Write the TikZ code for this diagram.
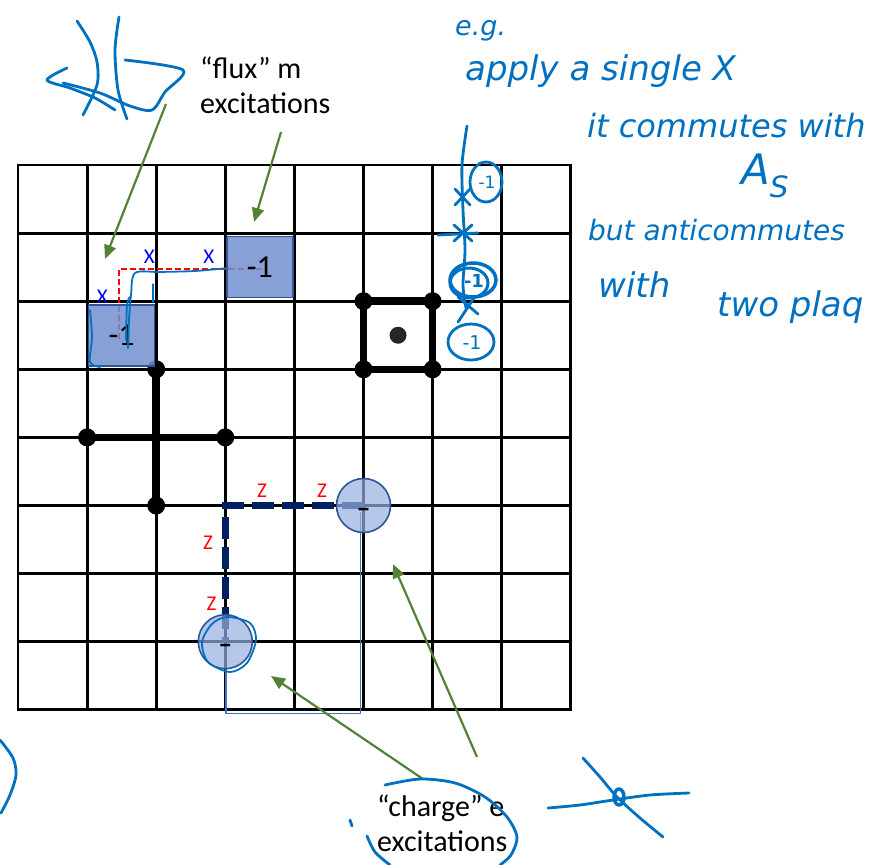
\documentclass[tikz,border=0pt]{standalone}
\usepackage{fontspec}
\setmainfont{Carlito}
\newfontfamily\handfont{DejaVu Sans}
\usepackage{tikz}
\usetikzlibrary{arrows.meta, positioning, calc}
\definecolor{sqblue}{RGB}{114,144,208}
\definecolor{sqedge}{RGB}{47,85,151}
\definecolor{chblue}{RGB}{150,176,224}
\definecolor{navy}{RGB}{0,32,96}
\definecolor{ptrgreen}{RGB}{84,130,53}
\definecolor{inkblue}{RGB}{0,112,192}
\definecolor{xblue}{RGB}{0,0,255}
\definecolor{zred}{RGB}{255,0,0}
\definecolor{pathblue}{RGB}{68,114,196}

\begin{document}
\begin{tikzpicture}[x=1pt,y=-1pt,
  every node/.style={font=\fontsize{30}{35}\selectfont},
  gridline/.style={line width=2.8pt,line cap=rect},
  opline/.style={line width=7.5pt},
  fluxsq/.style={draw=sqedge,line width=1.6pt,fill=sqblue,fill opacity=0.85,text opacity=1,
    minimum width=66pt,minimum height=61pt,inner sep=0pt,font=\fontsize{32}{32}\selectfont},
  chargedot/.style={circle,draw=sqedge,line width=1.6pt,fill=chblue,fill opacity=0.7,text opacity=1,
    minimum size=54pt,inner sep=0pt,text height=24pt,text depth=0pt,
    font=\bfseries\fontsize{28}{28}\selectfont},
  xlab/.style={text=xblue,inner sep=0pt,font=\fontsize{21}{21}\selectfont},
  zlab/.style={text=zred,inner sep=0pt,font=\fontsize{21}{21}\selectfont},
  xstring/.style={zred,line width=2.2pt,dash pattern=on 6pt off 3pt},
  zstring/.style={navy,line width=6.5pt,dash pattern=on 22pt off 8pt},
  estring/.style={pathblue,line width=1.2pt},
  pointer/.style={-{Triangle[length=14pt,width=12pt]},ptrgreen,line width=2.2pt},
  scribble/.style={draw=inkblue,line width=2.8pt,line cap=round,line join=round},
  handtext/.style={text=inkblue,inner sep=0pt,anchor=base west},
]
\useasboundingbox (0,0) rectangle (892,865);

% lattice, one unit = one cell
\begin{scope}[shift={(18,165)},x=69.1pt,y=-68.1pt]
  \foreach \i in {0,...,8} {
    \draw[gridline] (\i,0) -- (\i,8);
    \draw[gridline] (0,\i) -- (8,\i);
  }

  % star operator
  \draw[opline] (1,4) -- (3,4) (2,3) -- (2,5);
  \foreach \p in {(1,4),(3,4),(2,3),(2,5)}
    \fill \p circle[radius=9pt];

  % plaquette operator
  \draw[opline] (5,2) rectangle (6,3);
  \foreach \p in {(5,2),(6,2),(5,3),(6,3)}
    \fill \p circle[radius=9pt];
  \fill[black!85] (5.5,2.5) circle[radius=8.5pt];

  % X string between the flux excitations
  \coordinate (xa) at (1.46,2.55);
  \coordinate (xb) at (3.55,1.53);
  \draw[xstring] (xa) |- (xb);
  \node[fluxsq] (sqA) at (1.5,2.5) {-1};
  \node[fluxsq] (sqB) at (3.5,1.5) {-1};
  \node[xlab] (xlA) at (1.22,1.94) {X};
  \node[xlab] (xlB) at (1.9,1.35) {X};
  \node[xlab] (xlC) at (2.76,1.35) {X};

  % Z string between the charge excitations
  \coordinate (zc) at (3,5);
  \coordinate (eb) at (3.01,8.05);
  \draw[zstring] (5,5) -- (zc) -- (3,7);
  \draw[estring] ([xshift=-3pt]5,5.1) |- (eb) -- (3.01,7.4);
  \node[chargedot] (chA) at (3,7) {–};
  \node[chargedot] (chB) at (5,5) {–};
  \node[zlab] (zlA) at (3.53,4.78) {Z};
  \node[zlab] (zlB) at (4.40,4.78) {Z};
  \node[zlab] (zlC) at (2.75,5.55) {Z};
  \node[zlab] (zlD) at (2.80,6.44) {Z};
\end{scope}

% labels and pointers
\node[anchor=north west,inner sep=0pt,align=left] (flux) at (200,57) {“flux” m\\excitations};
\node[anchor=north west,inner sep=0pt,align=left] (charge) at (377,795) {“charge” e\\excitations};
\coordinate (ftA) at (166,104);  \coordinate (fhA) at (105,259);
\coordinate (ftB) at (281,132);  \coordinate (fhB) at (254,222);
\coordinate (ctA) at (477,757);  \coordinate (chdA) at (393,564);
\coordinate (ctB) at (423,779);  \coordinate (chdB) at (271,676);
\draw[pointer] (ftA) -- (fhA);
\draw[pointer] (ftB) -- (fhB);
\draw[pointer] (ctA) -- (chdA);
\draw[pointer] (ctB) -- (chdB);

% handwritten notes
\node[handtext,font=\handfont\itshape\fontsize{27}{27}\selectfont] (eg) at (455,35) {e.g.};
\node[handtext,font=\handfont\itshape\fontsize{34}{34}\selectfont] (apply) at (465,80) {apply a single X};
\node[handtext,font=\handfont\itshape\fontsize{32}{32}\selectfont] (commute) at (587,137) {it commutes with};
\node[handtext,font=\handfont\itshape\fontsize{42}{42}\selectfont] (as) at (741,184) {A\textsubscript{S}};
\node[handtext,font=\handfont\itshape\fontsize{28}{28}\selectfont] (anti) at (588,240) {but anticommutes};
\node[handtext,font=\handfont\itshape\fontsize{34}{34}\selectfont] (with) at (598,297) {with};
\node[handtext,font=\handfont\itshape\fontsize{34}{34}\selectfont] (plaq) at (717,316) {two plaq};

% marks beside column six
\draw[scribble] plot[smooth] coordinates {(467,126) (462,165) (463,210) (465,250) (463,285) (466,308)};
\draw[scribble] (486,182) ellipse (16 and 20);
\node[text=inkblue,font=\handfont\fontsize{17}{17}\selectfont] (mA) at (487,182) {-1};
\draw[scribble] (455,189) -- (470,205) (470,189) -- (455,205);
\draw[scribble] (454,225) -- (472,241) (472,225) -- (454,241) (438,235) -- (478,233);
\draw[scribble,line width=3.5pt] (473,280) ellipse (23 and 17);
\draw[scribble,line width=3pt] (469,283) ellipse (19 and 15);
\node[text=inkblue,font=\handfont\bfseries\fontsize{18}{18}\selectfont] (mB) at (474,281) {-1};
\draw[scribble] (458,297) -- (478,314) (474,298) -- (458,322);
\draw[scribble] (471,342) ellipse (23 and 18);
\node[text=inkblue,font=\handfont\fontsize{19}{19}\selectfont] (mC) at (472,343) {-1};

% scribbles
\draw[scribble] plot[smooth] coordinates {(77,21) (90,42) (97,62) (97,85) (83,115)};
\draw[scribble] plot[smooth] coordinates {(119,17) (115,50) (118,90) (127,119)};
\draw[scribble] plot[smooth] coordinates {(67,68) (47,80) (70,88) (95,98) (115,110)};
\draw[scribble] plot[smooth] coordinates {(125,60) (183,70) (165,92) (152,110) (130,106) (100,93) (63,83)};
\draw[scribble] plot[smooth] coordinates {(0,740) (13,758) (16,775) (10,795) (1,813)};
\draw[scribble] plot[smooth] coordinates {(548,808) (580,805) (613,800) (650,795) (689,793)};
\draw[scribble] plot[smooth] coordinates {(583,758) (600,777) (617,797) (640,818) (663,837)};
\draw[scribble,line width=3.5pt] (619,797) ellipse (5 and 8);
\draw[scribble] plot[smooth] coordinates {(385,785) (420,779) (455,783) (485,797) (507,817) (517,837) (511,855) (500,865)};
\draw[scribble] plot[smooth] coordinates {(367,836) (375,852) (390,865)};
\draw[scribble] (350,820) -- (352,826);
\draw[scribble,line width=1.8pt] plot[smooth] coordinates {(128,348) (129,320) (131,295) (135,273) (160,272) (195,271) (228,268)};
\draw[scribble,line width=1.8pt] plot[smooth] coordinates {(126,340) (127,305) (130,297)};
\draw[scribble,line width=1.8pt] plot[smooth] coordinates {(90,310) (92,337) (90,362) (100,367)};
\draw[scribble,line width=1.2pt] (153,284) -- (153,302);
\draw[scribble,line width=1.8pt] plot[smooth cycle] coordinates {(227,617) (250,623) (256,640) (247,663) (230,672) (208,662) (202,642) (212,624)};
\end{tikzpicture}
\end{document}
